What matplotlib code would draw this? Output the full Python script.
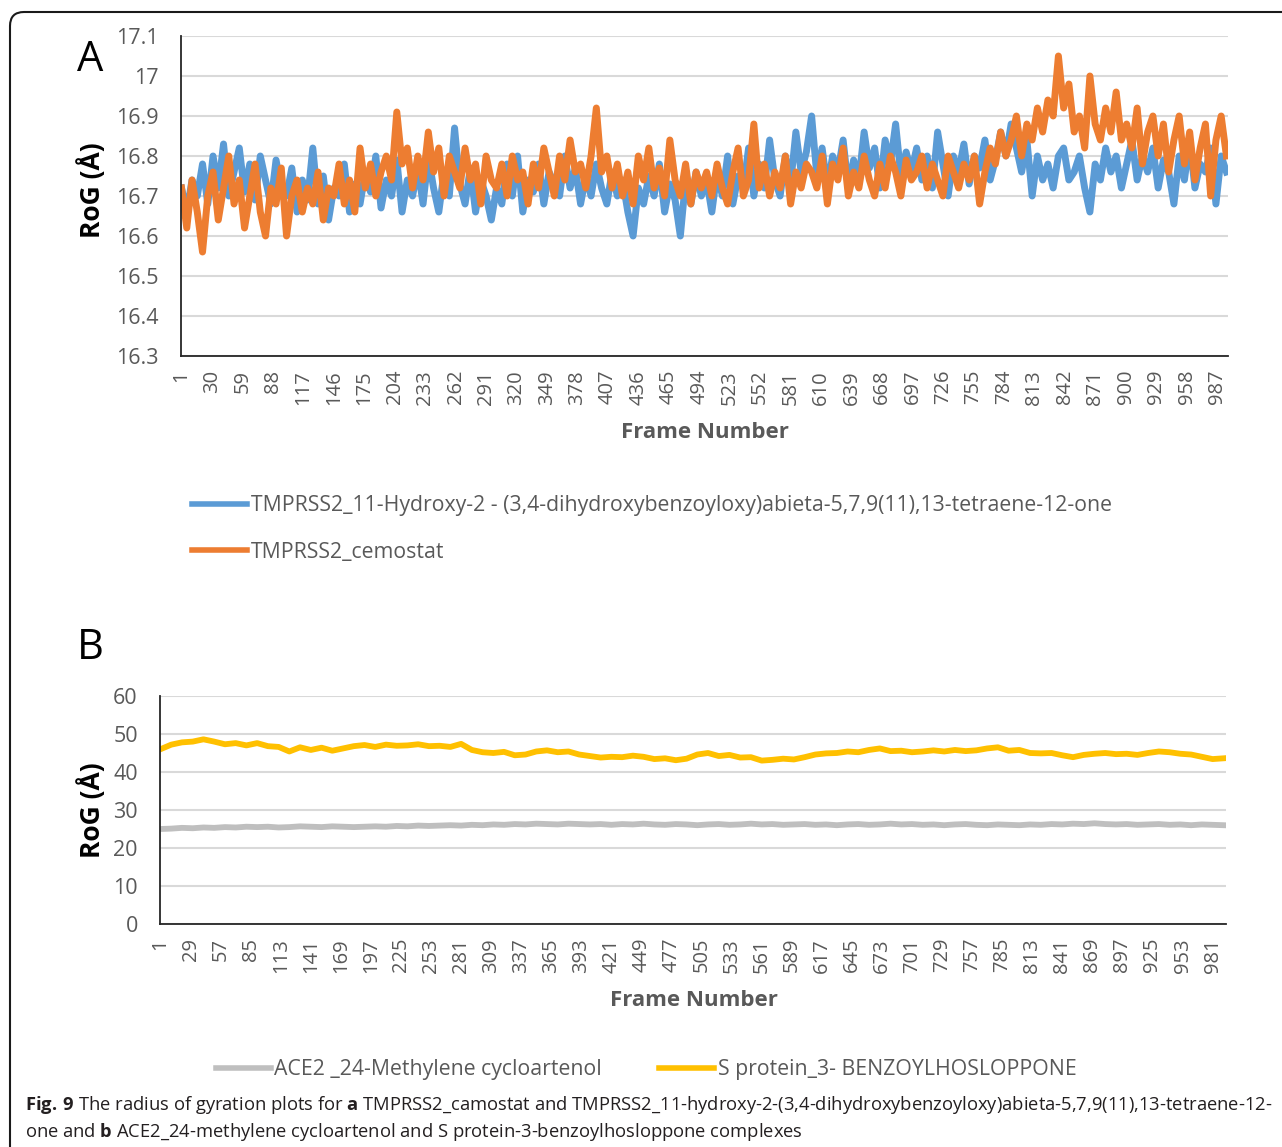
import numpy as np
import matplotlib
matplotlib.use("Agg")
import matplotlib.pyplot as plt
from matplotlib.lines import Line2D
from matplotlib.patches import FancyBboxPatch
from matplotlib.transforms import IdentityTransform

plt.rcParams['font.family'] = ['Open Sans', 'DejaVu Sans']
plt.rcParams['mathtext.fontset'] = 'custom'
plt.rcParams['mathtext.rm'] = 'Open Sans'
plt.rcParams['mathtext.bf'] = 'Open Sans:bold'

# ---- data ----
# panel A, one value every 5 frames starting at frame 1
hydroxy = [
    16.72, 16.66, 16.74, 16.70, 16.78, 16.68, 16.80, 16.72, 16.83, 16.70, 16.76, 16.82, 16.71, 16.78, 16.69, 16.80, 16.74, 16.68, 16.79, 16.72,
    16.70, 16.77, 16.66, 16.74, 16.69, 16.82, 16.68, 16.75, 16.64, 16.72, 16.70, 16.78, 16.66, 16.73, 16.68, 16.76, 16.71, 16.80, 16.67, 16.74,
    16.70, 16.79, 16.66, 16.74, 16.70, 16.77, 16.68, 16.80, 16.72, 16.66, 16.76, 16.70, 16.87, 16.73, 16.68, 16.77, 16.66, 16.74, 16.70, 16.64,
    16.72, 16.68, 16.78, 16.70, 16.80, 16.66, 16.74, 16.71, 16.78, 16.68, 16.76, 16.73, 16.70, 16.80, 16.72, 16.77, 16.68, 16.75, 16.70, 16.78,
    16.72, 16.68, 16.76, 16.70, 16.74, 16.66, 16.60, 16.72, 16.68, 16.75, 16.70, 16.78, 16.66, 16.73, 16.69, 16.60, 16.74, 16.68, 16.76, 16.70,
    16.74, 16.66, 16.76, 16.70, 16.80, 16.68, 16.75, 16.72, 16.82, 16.70, 16.78, 16.72, 16.84, 16.74, 16.70, 16.80, 16.73, 16.86, 16.76, 16.81,
    16.90, 16.75, 16.82, 16.72, 16.80, 16.76, 16.84, 16.72, 16.79, 16.74, 16.86, 16.77, 16.82, 16.72, 16.84, 16.78, 16.88, 16.75, 16.81, 16.76,
    16.82, 16.74, 16.80, 16.72, 16.86, 16.78, 16.70, 16.80, 16.76, 16.83, 16.73, 16.80, 16.77, 16.84, 16.74, 16.79, 16.86, 16.80, 16.88, 16.82,
    16.76, 16.84, 16.70, 16.80, 16.74, 16.78, 16.72, 16.80, 16.82, 16.74, 16.76, 16.80, 16.72, 16.66, 16.78, 16.74, 16.82, 16.76, 16.80, 16.72,
    16.78, 16.84, 16.74, 16.80, 16.76, 16.82, 16.72, 16.79, 16.76, 16.68, 16.80, 16.74, 16.84, 16.72, 16.78, 16.76, 16.82, 16.68, 16.80, 16.76,
]
cemostat = [
    16.72, 16.62, 16.74, 16.66, 16.56, 16.70, 16.76, 16.64, 16.72, 16.80, 16.68, 16.74, 16.62, 16.70, 16.78, 16.66, 16.60, 16.72, 16.68, 16.77,
    16.60, 16.70, 16.74, 16.66, 16.72, 16.68, 16.76, 16.64, 16.72, 16.70, 16.78, 16.68, 16.74, 16.66, 16.82, 16.72, 16.78, 16.70, 16.76, 16.80,
    16.74, 16.91, 16.78, 16.82, 16.72, 16.80, 16.74, 16.86, 16.76, 16.82, 16.70, 16.80, 16.76, 16.72, 16.82, 16.74, 16.78, 16.68, 16.80, 16.74,
    16.72, 16.78, 16.70, 16.80, 16.74, 16.76, 16.68, 16.78, 16.72, 16.82, 16.76, 16.70, 16.80, 16.74, 16.84, 16.76, 16.78, 16.72, 16.80, 16.92,
    16.76, 16.80, 16.72, 16.78, 16.70, 16.76, 16.68, 16.80, 16.74, 16.82, 16.72, 16.77, 16.70, 16.84, 16.74, 16.70, 16.78, 16.68, 16.76, 16.72,
    16.76, 16.70, 16.78, 16.72, 16.68, 16.76, 16.82, 16.70, 16.74, 16.88, 16.72, 16.78, 16.70, 16.76, 16.72, 16.80, 16.68, 16.76, 16.72, 16.78,
    16.76, 16.72, 16.80, 16.68, 16.78, 16.74, 16.82, 16.70, 16.76, 16.72, 16.80, 16.74, 16.70, 16.78, 16.72, 16.80, 16.76, 16.70, 16.79, 16.74,
    16.76, 16.80, 16.72, 16.78, 16.74, 16.70, 16.80, 16.76, 16.72, 16.78, 16.74, 16.80, 16.68, 16.76, 16.82, 16.78, 16.86, 16.80, 16.84, 16.90,
    16.80, 16.88, 16.84, 16.92, 16.86, 16.94, 16.90, 17.05, 16.92, 16.98, 16.86, 16.90, 16.82, 17.00, 16.88, 16.84, 16.92, 16.86, 16.96, 16.84,
    16.88, 16.82, 16.92, 16.78, 16.86, 16.90, 16.80, 16.88, 16.76, 16.84, 16.90, 16.78, 16.86, 16.74, 16.82, 16.88, 16.70, 16.84, 16.90, 16.80,
]
# panel B, one value every 10 frames starting at frame 1
cycloartenol = [
    25.0, 25.1, 25.3, 25.2, 25.4, 25.3, 25.5, 25.4, 25.6, 25.5, 25.6, 25.4, 25.5, 25.7, 25.6, 25.5, 25.7, 25.6, 25.5, 25.6,
    25.7, 25.6, 25.8, 25.7, 25.9, 25.8, 25.9, 26.0, 25.9, 26.1, 26.0, 26.2, 26.1, 26.3, 26.2, 26.4, 26.3, 26.2, 26.4, 26.3,
    26.2, 26.3, 26.1, 26.3, 26.2, 26.4, 26.2, 26.1, 26.3, 26.2, 26.0, 26.2, 26.3, 26.1, 26.2, 26.4, 26.2, 26.3, 26.1, 26.2,
    26.3, 26.1, 26.2, 26.0, 26.2, 26.3, 26.1, 26.2, 26.4, 26.2, 26.3, 26.1, 26.2, 26.0, 26.2, 26.3, 26.1, 26.0, 26.2, 26.1,
    26.0, 26.2, 26.1, 26.3, 26.2, 26.4, 26.3, 26.5, 26.3, 26.2, 26.3, 26.1, 26.2, 26.3, 26.1, 26.2, 26.0, 26.2, 26.1, 26.0,
]
benzoyl = [
    46.0, 47.2, 47.8, 48.0, 48.6, 48.0, 47.3, 47.6, 47.0, 47.6, 46.8, 46.6, 45.4, 46.5, 45.8, 46.4, 45.6, 46.2, 46.8, 47.1,
    46.6, 47.2, 46.9, 47.0, 47.3, 46.8, 46.9, 46.6, 47.4, 45.8, 45.2, 45.0, 45.3, 44.4, 44.6, 45.4, 45.7, 45.2, 45.4, 44.6,
    44.2, 43.8, 44.0, 43.9, 44.3, 44.0, 43.4, 43.6, 43.1, 43.5, 44.6, 45.0, 44.2, 44.5, 43.8, 43.9, 43.0, 43.2, 43.5, 43.3,
    43.9, 44.6, 44.9, 45.0, 45.4, 45.2, 45.8, 46.2, 45.5, 45.6, 45.2, 45.4, 45.7, 45.4, 45.8, 45.5, 45.7, 46.2, 46.5, 45.6,
    45.8, 45.0, 44.9, 45.0, 44.4, 43.9, 44.5, 44.8, 45.0, 44.7, 44.8, 44.5, 45.0, 45.4, 45.2, 44.8, 44.6, 44.0, 43.4, 43.6,
]
label_hydroxy = "TMPRSS2_11-Hydroxy-2 - (3,4-dihydroxybenzoyloxy)abieta-5,7,9(11),13-tetraene-12-one"
label_cemostat = "TMPRSS2_cemostat"
label_cyclo = "ACE2 _24-Methylene cycloartenol"
label_benzoyl = "S protein_3- BENZOYLHOSLOPPONE"

frames_a = np.arange(1, 5 * len(hydroxy) + 1, 5)
frames_b = np.arange(1, 10 * len(benzoyl) + 1, 10)

GRAY = '#595959'
W, H = 1282, 1147
fig = plt.figure(figsize=(W / 100, H / 100), dpi=100)

def style(ax, ticks, ymin, ymax, ystep, nmax):
    ax.set_xlim(0.5, nmax + 0.5)
    ax.set_ylim(ymin, ymax)
    ax.set_yticks(np.arange(ymin, ymax + ystep / 2, ystep))
    ax.set_xticks(ticks)
    ax.set_xticklabels([str(t) for t in ticks], rotation=90)
    ax.tick_params(axis='both', length=0, colors=GRAY)
    ax.tick_params(axis='x', labelsize=14.5, pad=10)
    ax.tick_params(axis='y', labelsize=15.5, pad=16)
    ax.grid(axis='y', color='#d9d9d9', lw=1.5)
    ax.set_axisbelow(True)
    for s in ['top', 'right']:
        ax.spines[s].set_visible(False)
    for s in ['left', 'bottom']:
        ax.spines[s].set_color('#262626')
        ax.spines[s].set_linewidth(1.3)

# ---- panel A ----
ax1 = fig.add_axes([181 / W, 1 - 356 / H, (1228 - 181) / W, 320 / H])
ax1.plot(frames_a, hydroxy, color='#5b9bd5', lw=5, solid_joinstyle='round')
ax1.plot(frames_a, cemostat, color='#ed7d31', lw=5, solid_joinstyle='round')
style(ax1, np.arange(1, 1000, 29), 16.3, 17.1, 0.1, 997)
ax1.set_yticklabels(['16.3', '16.4', '16.5', '16.6', '16.7', '16.8', '16.9', '17', '17.1'])

# ---- panel B ----
ax2 = fig.add_axes([160 / W, 1 - 924 / H, (1226 - 160) / W, 228 / H])
ax2.plot(frames_b, cycloartenol, color='#bfbfbf', lw=4.2)
ax2.plot(frames_b, benzoyl, color='#ffc000', lw=4.2)
style(ax2, np.arange(1, 1000, 28), 0, 60, 10, 993)

# ---- texts ----
fig.text(90 / W, 1 - 60 / H, 'A', fontsize=30, ha='center', va='center')
fig.text(90 / W, 1 - 648 / H, 'B', fontsize=30, ha='center', va='center')
fig.text(92 / W, 1 - 190 / H, 'RoG (Å)', fontsize=19, fontweight='bold', rotation=90, ha='center', va='center')
fig.text(92 / W, 1 - 810 / H, 'RoG (Å)', fontsize=19, fontweight='bold', rotation=90, ha='center', va='center')
fig.text(705 / W, 1 - 433 / H, 'Frame Number', fontsize=16, fontweight='bold', color=GRAY, ha='center', va='center')
fig.text(694 / W, 1 - 1001 / H, 'Frame Number', fontsize=16, fontweight='bold', color=GRAY, ha='center', va='center')

# legends
hA = [Line2D([], [], color='#5b9bd5', lw=4), Line2D([], [], color='#ed7d31', lw=4)]
fig.legend(hA, [label_hydroxy, label_cemostat], loc='center left', bbox_to_anchor=(173 / W, 1 - 529 / H),
           frameon=False, fontsize=15.3, labelcolor=GRAY, handlelength=2.6, handletextpad=0.15, labelspacing=1.2)
hB = [Line2D([], [], color='#bfbfbf', lw=4), Line2D([], [], color='#ffc000', lw=4)]
fig.legend(hB, [label_cyclo, label_benzoyl], loc='center', bbox_to_anchor=(646 / W, 1 - 1070 / H), ncol=2,
           frameon=False, fontsize=15.3, labelcolor=GRAY, handlelength=2.6, handletextpad=0.15, columnspacing=2.7)

# caption
fig.text(25 / W, 1 - 1105 / H,
         r"$\bf{Fig.}\,\bf{9}$ The radius of gyration plots for $\bf{a}$ TMPRSS2_camostat and "
         "TMPRSS2_11-hydroxy-2-(3,4-dihydroxybenzoyloxy)abieta-5,7,9(11),13-tetraene-12-",
         fontsize=13.2, color='#231f20', va='center')
fig.text(25 / W, 1 - 1132 / H,
         r"one and $\bf{b}$ ACE2_24-methylene cycloartenol and S protein-3-benzoylhosloppone complexes",
         fontsize=13.2, color='#231f20', va='center')

# outer rounded frame
fig.patches.append(FancyBboxPatch((10, -40), 1320, H - 12 + 40, boxstyle='round,pad=0,rounding_size=14',
                                  transform=IdentityTransform(), fill=False, ec='#1a1a1a', lw=1.5))

fig.savefig('out.png', dpi=100)
